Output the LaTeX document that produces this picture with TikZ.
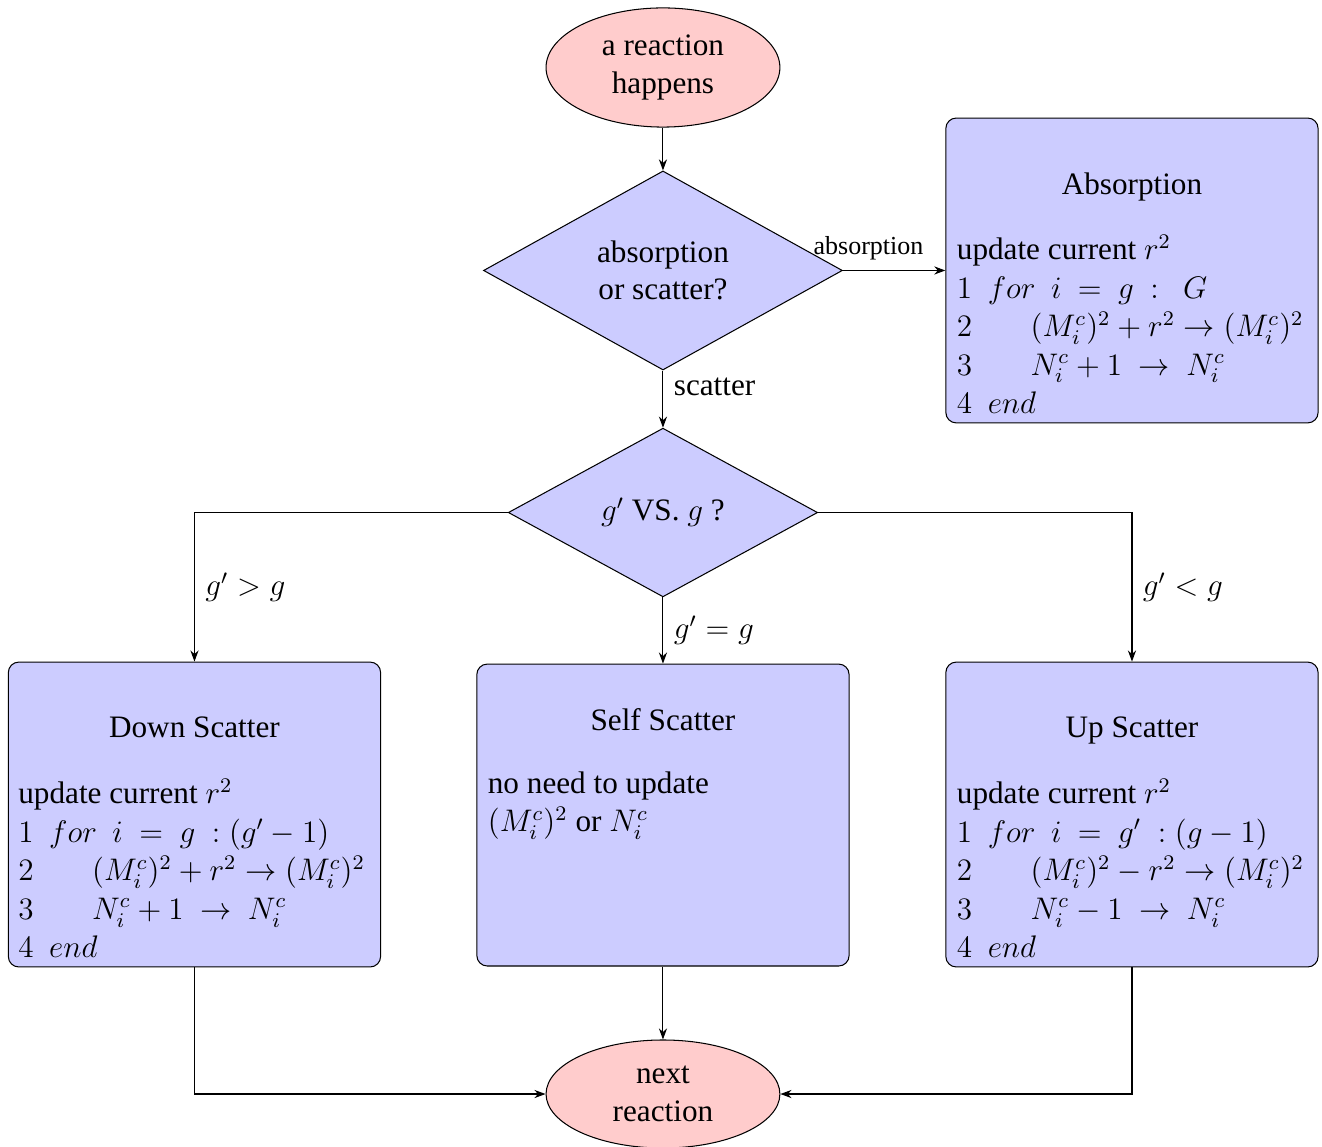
\documentclass[tikz,border=0pt,12pt]{standalone}
\usepackage[no-math]{fontspec}
\setmainfont{Liberation Serif}
\usepackage{tikz}
\usetikzlibrary{positioning, calc, arrows.meta, shapes.geometric}
\definecolor{termfill}{HTML}{FFCCCC}
\definecolor{procfill}{HTML}{CCCCFF}
\tikzset{
  >={Stealth[length=1.5mm, width=1.1mm]},
  startstop/.style={
    ellipse, draw=black, fill=termfill,
    minimum width=3.16cm, minimum height=1.61cm,
    inner sep=0pt, align=center
  },
  decision/.style={
    diamond, draw=black, fill=procfill, aspect=1.8,
    inner sep=0pt, align=center
  },
  process/.style={
    rectangle, draw=black, fill=procfill, rounded corners=4pt,
    minimum width=5.03cm, minimum height=4.12cm
  },
  boxtitle/.style={anchor=base, inner sep=0pt},
  boxbody/.style={
    anchor=north west, inner sep=0pt, align=left,
    font=\fontsize{12}{14.8}\selectfont
  },
  arrow/.style={->, draw=black},
  elabel/.style={font=\footnotesize},
}

\begin{document}
\begin{tikzpicture}[x=1cm, y=1cm]
\useasboundingbox (0,0) rectangle (17.865,-15.5);

\node[startstop] (start) at (8.959, -0.912) {a reaction\\happens};
\node[decision, minimum width=4.85cm, minimum height=2.69cm]
  (decide) at (8.959, -3.655) {absorption\\or scatter?};
\node[process] (absorb) at (15.297, -3.655) {};
\node[decision, minimum width=4.18cm, minimum height=2.28cm]
  (kind) at (8.959, -6.926) {$g'$ VS. $g$ ?};
\node[process] (down) at (2.628, -11.007) {};
\node[process, minimum height=4.08cm] (self) at (8.959, -11.014) {};
\node[process] (up) at (15.297, -11.007) {};
\node[startstop, minimum height=1.46cm] (next) at (8.959, -14.784) {next\\reaction};

% box contents
\node[boxtitle] (absorbT) at ($(absorb.north)+(0,-1.041)$) {Absorption};
\node[boxbody] (absorbB) at ($(absorb.north west)+(0.149,-1.581)$) {
  update current $r^2$\\
  $1\ \ for\ \ i\ =\ g\ :\ \ G$\\
  $2\hspace{22.5pt}(M_i^c)^2+r^2\rightarrow(M_i^c)^2$\\
  $3\hspace{22.5pt}N_i^c+1\ \rightarrow\ N_i^c$\\
  $4\ \ end$};

\node[boxtitle] (downT) at ($(down.north)+(0,-1.027)$) {Down Scatter};
\node[boxbody] (downB) at ($(down.north west)+(0.135,-1.581)$) {
  update current $r^2$\\
  $1\ \ for\ \ i\ =\ g\ :(g'-1)$\\
  $2\hspace{22.5pt}(M_i^c)^2+r^2\rightarrow(M_i^c)^2$\\
  $3\hspace{22.5pt}N_i^c+1\ \rightarrow\ N_i^c$\\
  $4\ \ end$};

\node[boxtitle] (selfT) at ($(self.north)+(0,-0.905)$) {Self Scatter};
\node[boxbody] (selfB) at ($(self.north west)+(0.149,-1.452)$) {
  no need to update\\
  $(M_i^c)^2$ or $N_i^c$};

\node[boxtitle] (upT) at ($(up.north)+(0,-1.027)$) {Up Scatter};
\node[boxbody] (upB) at ($(up.north west)+(0.149,-1.581)$) {
  update current $r^2$\\
  $1\ \ for\ \ i\ =\ g'\ :(g-1)$\\
  $2\hspace{22.5pt}(M_i^c)^2-r^2\rightarrow(M_i^c)^2$\\
  $3\hspace{22.5pt}N_i^c-1\ \rightarrow\ N_i^c$\\
  $4\ \ end$};

% connectors
\draw[arrow] (start) -- (decide);
\draw[arrow] (decide.east) -- node[elabel, above, pos=0.25] {absorption} (absorb.west);
\draw[arrow] (decide.south) -- node[right, pos=0.28] {scatter} (kind.north);
\draw[arrow] (kind.west) -| node[right, pos=0.75] {$g'>g$} (down.north);
\draw[arrow] (kind.south) -- node[right] {$g'=g$} (self.north);
\draw[arrow] (kind.east) -| node[right, pos=0.75] {$g'<g$} (up.north);
\draw[arrow] (down.south) |- (next.west);
\draw[arrow] (self.south) -- (next.north);
\draw[arrow] (up.south) |- (next.east);

\end{tikzpicture}
\end{document}
